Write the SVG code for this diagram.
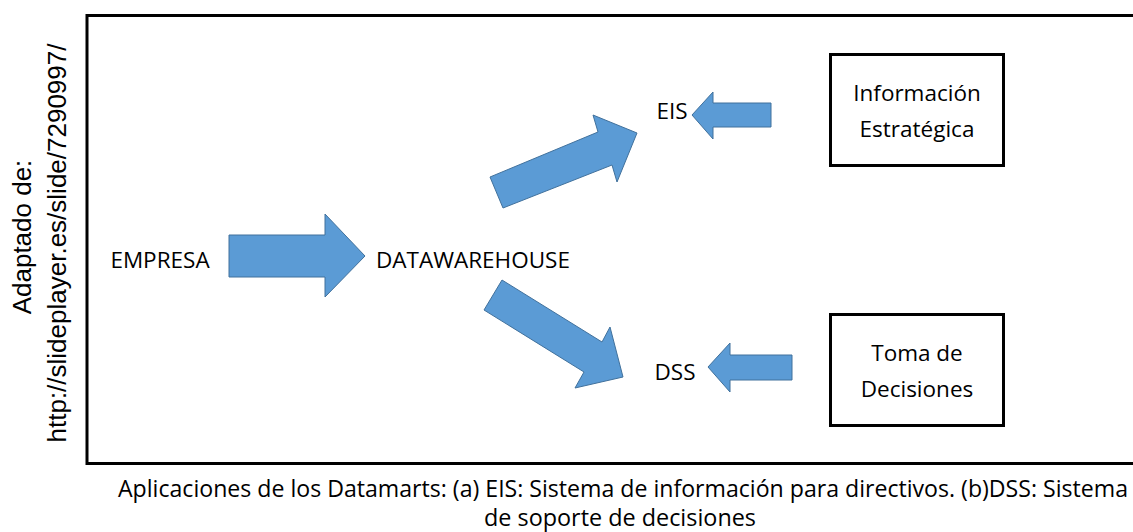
<svg xmlns="http://www.w3.org/2000/svg" width="1133" height="532" viewBox="0 0 1133 532">
<style>
.lbl{font-family:"Open Sans","Noto Sans",sans-serif;font-size:22.5px;fill:#000;}
.cap{font-family:"Open Sans","Noto Sans",sans-serif;font-size:23px;fill:#000;}
.rot{font-family:"Liberation Sans","DejaVu Sans",sans-serif;font-size:26px;fill:#000;}
.arrow{fill:#5B9BD5;stroke:#41719C;stroke-width:1;stroke-linejoin:miter;}
.box{fill:#fff;stroke:#000;stroke-width:3;}
.frame{fill:none;stroke:#000;stroke-width:3;}
</style>
<rect width="1133" height="532" fill="#fff"/>
<rect class="frame" x="87" y="15.5" width="1060" height="448"/>
<g id="source-note">
<text class="rot" transform="translate(31,237) rotate(-90)" text-anchor="middle">Adaptado de:</text>
<text class="rot" transform="translate(66,243) rotate(-90)" text-anchor="middle">http://slideplayer.es/slide/7290997/</text>
</g>
<g id="connectors">
<polygon class="arrow" points="229,235 325,235 325,214 365,256 325,297 325,277 229,277"/>
<polygon class="arrow" points="490,177 598,132 593,115 637,133 617,182 612,165 503,208"/>
<polygon class="arrow" points="502,280 602,342 610,327 623,377 575,388 584,372 484,310"/>
<polygon class="arrow" points="771,103 713,103 713,92 692,115 713,139 713,127 771,127"/>
<polygon class="arrow" points="792,355 730,355 730,343 708,367 730,392 730,380 792,380"/>
</g>
<g id="empresa"><text class="lbl" x="160" y="268" text-anchor="middle">EMPRESA</text></g>
<g id="datawarehouse"><text class="lbl" x="473" y="268" text-anchor="middle">DATAWAREHOUSE</text></g>
<g id="eis"><text class="lbl" x="672" y="119" text-anchor="middle">EIS</text></g>
<g id="dss"><text class="lbl" x="675" y="380" text-anchor="middle">DSS</text></g>
<g id="info-estrategica">
<rect class="box" x="830.5" y="54.5" width="173" height="111"/>
<text class="lbl" x="917" y="101" text-anchor="middle">Información</text>
<text class="lbl" x="917" y="137" text-anchor="middle">Estratégica</text>
</g>
<g id="toma-decisiones">
<rect class="box" x="830.5" y="314.5" width="173" height="111"/>
<text class="lbl" x="917" y="361" text-anchor="middle">Toma de</text>
<text class="lbl" x="917" y="397" text-anchor="middle">Decisiones</text>
</g>
<g id="caption">
<text class="cap" x="623" y="497" text-anchor="middle" textLength="1010" lengthAdjust="spacingAndGlyphs">Aplicaciones de los Datamarts: (a) EIS: Sistema de información para directivos. (b)DSS: Sistema</text>
<text class="cap" x="620" y="526" text-anchor="middle" textLength="272" lengthAdjust="spacingAndGlyphs">de soporte de decisiones</text>
</g>
</svg>
